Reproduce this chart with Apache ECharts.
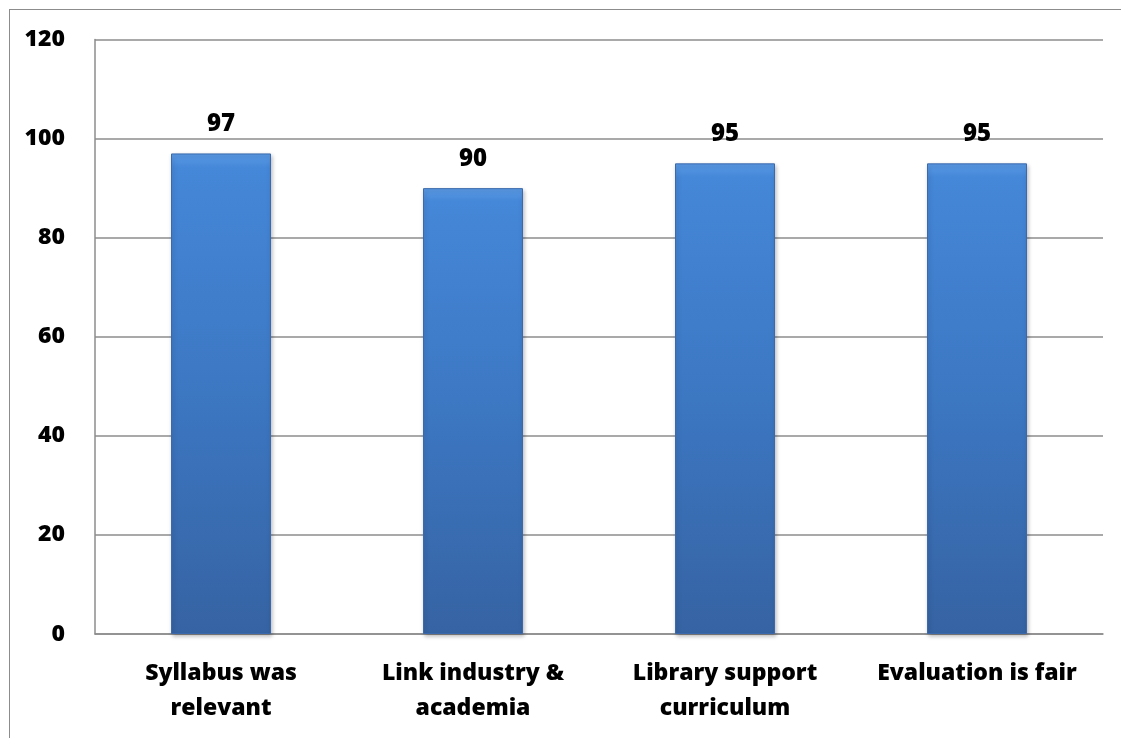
<!DOCTYPE html>
<html>
<head>
<meta charset="utf-8">
<script src="https://cdn.jsdelivr.net/npm/echarts@6/dist/echarts.min.js"></script>
<style>
html,body{margin:0;padding:0;background:#fff;overflow:hidden;}
#frame{position:absolute;left:9px;top:9px;width:1130px;height:760px;border:1px solid #8c8c8c;box-sizing:border-box;}
#chart{position:absolute;left:0;top:0;width:1121px;height:738px;}
</style>
</head>
<body>
<div id="frame"></div>
<div id="chart"></div>
<script>
const categories = ["Syllabus was\nrelevant", "Link industry &\nacademia", "Library support\ncurriculum", "Evaluation is fair"];
const values = [97, 90, 95, 95];
const yTicks = [0, 20, 40, 60, 80, 100, 120];

const chart = echarts.init(document.getElementById('chart'));
const fontFam = '"Open Sans", "Noto Sans", sans-serif';
chart.setOption({
  animation: false,
  grid: {left: 95, right: 18, top: 39.5, bottom: 104},
  xAxis: {
    type: 'category',
    data: categories,
    axisLine: {lineStyle: {color: '#8c8c8c', width: 1.5}},
    axisTick: {show: false},
    axisLabel: {color: '#000', fontWeight: 800, fontSize: 23, fontFamily: fontFam, lineHeight: 35, margin: 22, interval: 0}
  },
  yAxis: {
    type: 'value',
    min: yTicks[0], max: yTicks[yTicks.length - 1], interval: 20,
    axisLine: {show: true, lineStyle: {color: '#8c8c8c', width: 1.5}},
    axisTick: {show: false},
    splitLine: {lineStyle: {color: '#8c8c8c', width: 1.5}},
    axisLabel: {color: '#000', fontWeight: 800, fontSize: 23, fontFamily: fontFam, margin: 30}
  },
  series: [{
    type: 'bar',
    data: values,
    barWidth: 100,
    itemStyle: {
      color: new echarts.graphic.LinearGradient(0, 0, 0, 1, [
        {offset: 0, color: '#5b9be6'},
        {offset: 0.03, color: '#4587d8'},
        {offset: 0.5, color: '#3c77c2'},
        {offset: 1, color: '#3663a3'}
      ]),
      borderColor: '#3a6aad',
      borderWidth: 1,
      shadowColor: 'rgba(0,0,0,0.25)',
      shadowBlur: 4,
      shadowOffsetX: 1,
      shadowOffsetY: 2
    },
    label: {show: true, position: 'top', distance: 17, color: '#000', fontWeight: 800, fontSize: 24, fontFamily: fontFam}
  }]
});
</script>
</body>
</html>
